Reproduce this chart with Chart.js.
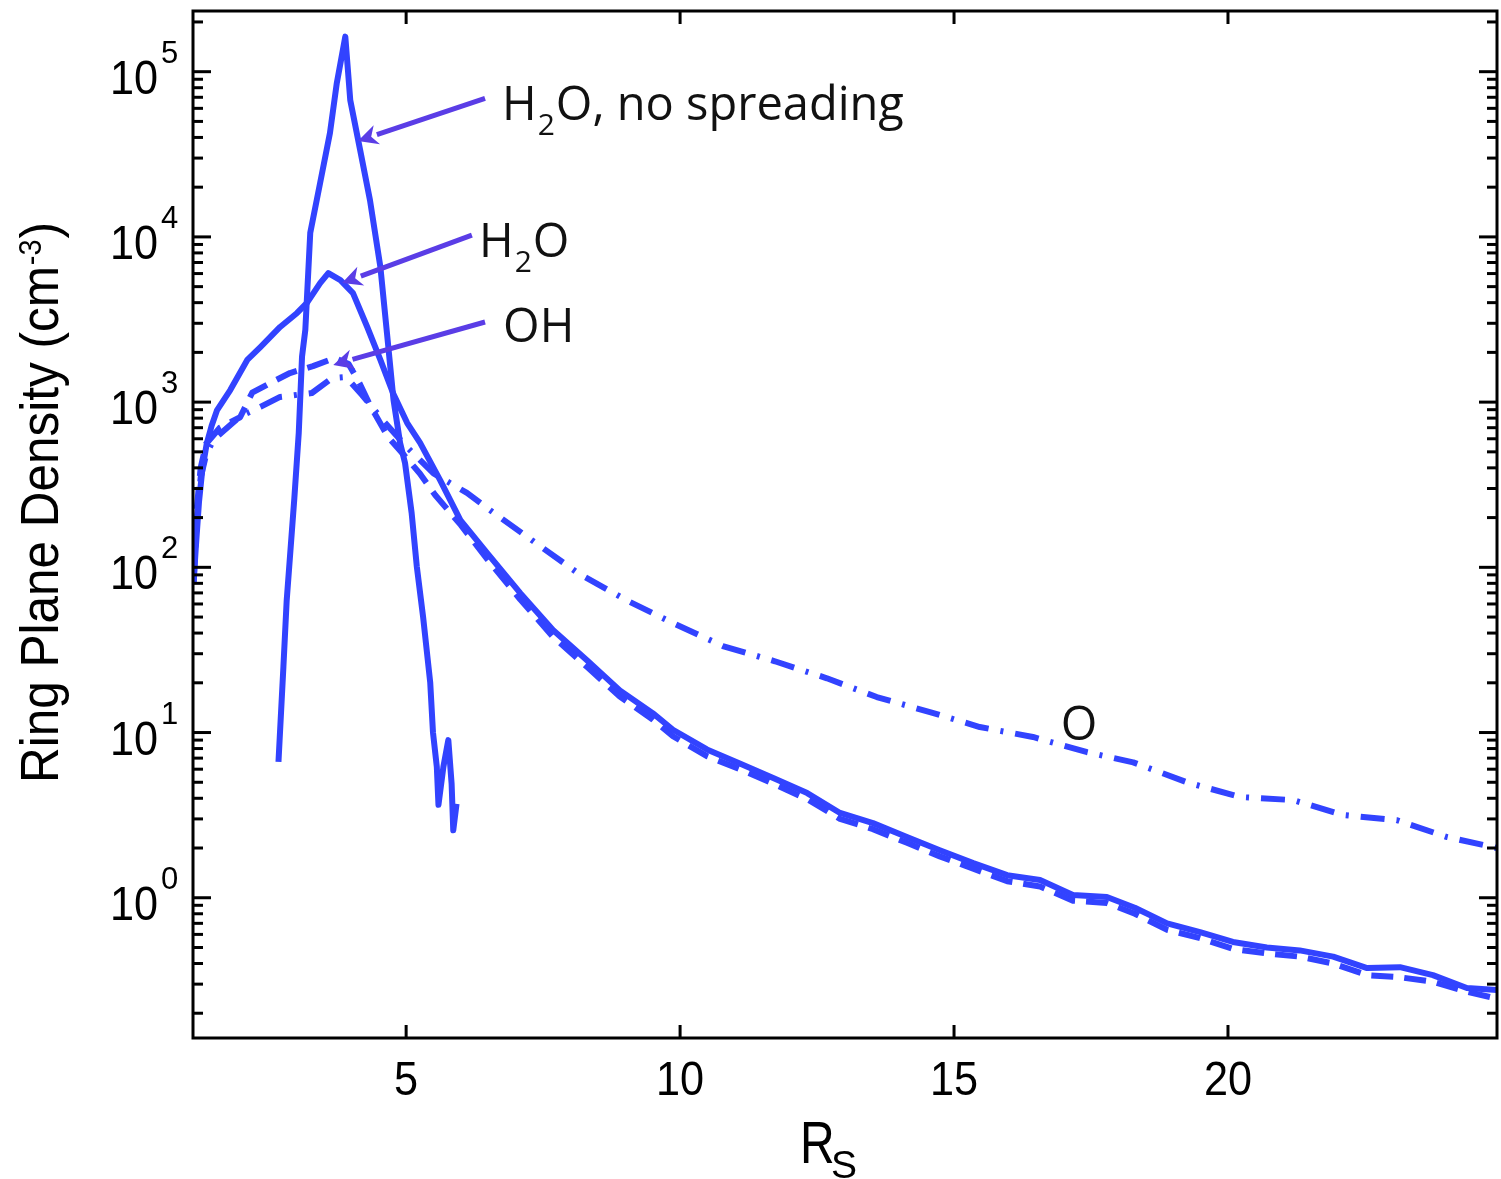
<!DOCTYPE html>
<html><head><meta charset="utf-8">
<script src="https://cdn.jsdelivr.net/npm/chart.js@4.4.1/dist/chart.umd.min.js"></script>
<style>html,body{margin:0;padding:0;background:#fff;}#wrap{width:1501px;height:1179px;}</style>
</head><body><div id="wrap"><canvas id="c" width="1501" height="1179"></canvas></div>
<script>
// ---- data (R in Saturn radii, density in cm^-3) ----
const noSpreadR = [2.67, 2.76, 2.82, 2.96, 3.04, 3.10, 3.16, 3.25, 3.43, 3.61, 3.735, 3.89, 3.98, 4.16, 4.34, 4.53, 4.65, 4.77, 4.89, 4.98, 5.10, 5.195, 5.31, 5.44, 5.49, 5.56, 5.59, 5.68, 5.77, 5.83, 5.86, 5.92];
const noSpreadD = [6.65, 25, 63, 263, 650, 1885, 2735, 10570, 21200, 42600, 85500, 163000, 67300, 33600, 16700, 6580, 2620, 1030, 566, 428, 214, 101, 50, 20, 10, 6.2, 3.65, 6.2, 9.0, 4.9, 2.56, 3.7];

const h2oR = [1.12, 1.16, 1.22, 1.28, 1.36, 1.45, 1.55, 1.79, 2.10, 2.34, 2.70, 3.01, 3.19, 3.43, 3.58, 3.80, 4.03, 4.29, 4.53, 4.76, 5.02, 5.255, 5.62, 5.99, 6.48, 7.08, 7.68, 8.30, 8.90, 9.50, 9.87, 10.49, 11.09, 11.70, 12.32, 12.92, 13.52, 14.14, 14.74, 15.35, 15.97, 16.57, 17.17, 17.79, 18.30, 18.89, 19.49, 20.09, 20.71, 21.31, 21.92, 22.54, 23.14, 23.74, 24.36, 24.91];
const h2oD = [80, 130, 250, 390, 560, 720, 895, 1183, 1800, 2155, 2850, 3465, 3990, 5250, 6040, 5480, 4570, 2850, 1800, 1135, 747, 566, 337, 193, 122, 70, 41.7, 27.4, 18, 13.1, 10.4, 7.9, 6.5, 5.3, 4.3, 3.26, 2.83, 2.33, 1.94, 1.62, 1.37, 1.28, 1.04, 1.01, 0.87, 0.70, 0.62, 0.54, 0.50, 0.48, 0.44, 0.375, 0.38, 0.34, 0.284, 0.276];

const ohR = [1.12, 1.18, 1.25, 1.35, 1.60, 1.97, 2.19, 2.52, 2.88, 3.30, 3.70, 3.95, 4.15, 4.34, 4.67, 4.96, 5.25, 5.53, 6.00, 6.48, 7.08, 7.68, 8.30, 8.90, 9.50, 9.87, 10.49, 11.09, 11.70, 12.32, 12.92, 13.52, 14.14, 14.74, 15.35, 15.97, 16.57, 17.17, 17.79, 18.30, 18.89, 19.49, 20.09, 20.71, 21.31, 21.92, 22.54, 23.14, 23.74, 24.36, 24.91];
const ohD = [90, 230, 400, 560, 700, 810, 1140, 1305, 1500, 1650, 1850, 1700, 1300, 960, 614, 478, 370, 274, 180, 112, 64, 38, 25, 16.5, 12, 9.5, 7.2, 6.0, 4.9, 3.95, 3.0, 2.6, 2.15, 1.78, 1.5, 1.26, 1.17, 0.96, 0.93, 0.80, 0.64, 0.57, 0.49, 0.46, 0.44, 0.40, 0.34, 0.33, 0.31, 0.27, 0.245];

const oR = [1.12, 1.18, 1.25, 1.35, 1.48, 1.97, 2.34, 2.70, 3.28, 3.65, 3.90, 4.20, 4.60, 5.00, 5.50, 6.11, 6.53, 7.32, 8.14, 9.03, 9.87, 10.78, 11.73, 12.68, 13.59, 14.56, 15.47, 16.44, 17.43, 18.27, 19.25, 20.22, 21.19, 22.10, 23.08, 24.00, 24.91];
const oD = [80, 200, 350, 480, 590, 820, 935, 1075, 1135, 1400, 1420, 1100, 760, 540, 370, 282, 222, 144, 92, 63, 46, 33.4, 27, 21.3, 16.4, 13.3, 10.8, 9.4, 7.6, 6.6, 5.0, 4.07, 3.9, 3.17, 2.95, 2.33, 2.0];

const xTickValues = [5, 10, 15, 20];
const yTickExponents = [0, 1, 2, 3, 4, 5];
const xTitle = ['R', 'S'];
const yTitle = ['Ring Plane Density (cm', '-3', ')'];

// annotation labels (text parts: [normal, subscript, normal]) and anchors in data units
const labelNoSpread = ['H', '2', 'O, no spreading'];
const labelH2O = ['H', '2', 'O'];
const labelOH = ['OH', '', ''];
const labelO = 'O';

const BLUE = '#3243ff';
const ARROW = '#5a3de6';

const pts = (xs, ys) => xs.map((x, i) => ({x: x, y: ys[i]}));

const annotations = [
  {parts: labelNoSpread, tx: 6.75, ty: 5.1e4, from: [6.44, 6.9e4], to: [4.12, 3.8e4]},
  {parts: labelH2O, tx: 6.33, ty: 7550, from: [6.20, 10260], to: [3.83, 5260]},
  {parts: labelOH, tx: 6.77, ty: 2323, from: [6.44, 3055], to: [3.67, 1680]}
];

function drawChem(ctx, parts, x, y) {
  ctx.textAlign = 'left';
  ctx.textBaseline = 'alphabetic';
  ctx.font = '47px "Open Sans"';
  ctx.fillText(parts[0], x, y);
  x += ctx.measureText(parts[0]).width;
  if (parts[1]) {
    ctx.font = '30px "Open Sans"';
    ctx.fillText(parts[1], x + 1, y + 15);
    x += ctx.measureText(parts[1]).width + 2;
  }
  if (parts[2]) {
    ctx.font = '47px "Open Sans"';
    ctx.fillText(parts[2], x, y);
  }
}

function drawArrow(ctx, x0, y0, x1, y1) {
  ctx.strokeStyle = ARROW; ctx.fillStyle = ARROW; ctx.lineWidth = 5; ctx.lineCap = 'butt';
  const ang = Math.atan2(y1 - y0, x1 - x0);
  const L = 20, W = 10;
  const bx = x1 - L * Math.cos(ang), by = y1 - L * Math.sin(ang);
  ctx.beginPath(); ctx.moveTo(x0, y0); ctx.lineTo(bx, by); ctx.stroke();
  ctx.beginPath();
  ctx.moveTo(x1, y1);
  ctx.lineTo(bx + W * Math.sin(ang), by - W * Math.cos(ang));
  ctx.lineTo(x1 - 0.7 * L * Math.cos(ang), y1 - 0.7 * L * Math.sin(ang));
  ctx.lineTo(bx - W * Math.sin(ang), by + W * Math.cos(ang));
  ctx.closePath(); ctx.fill();
}

const decor = {
  id: 'decor',
  afterDatasetsDraw(chart) {
    const ctx = chart.ctx, a = chart.chartArea, xs = chart.scales.x, ys = chart.scales.y;
    ctx.save();
    // annotations
    annotations.forEach(an => {
      drawArrow(ctx, xs.getPixelForValue(an.from[0]), ys.getPixelForValue(an.from[1]),
                xs.getPixelForValue(an.to[0]), ys.getPixelForValue(an.to[1]));
      ctx.fillStyle = '#111';
      drawChem(ctx, an.parts, xs.getPixelForValue(an.tx), ys.getPixelForValue(an.ty));
    });
    ctx.fillStyle = '#111';
    ctx.font = '47px "Open Sans"'; ctx.textAlign = 'center'; ctx.textBaseline = 'alphabetic';
    ctx.fillText(labelO, xs.getPixelForValue(17.28), ys.getPixelForValue(9.0));

    // frame
    ctx.strokeStyle = '#000'; ctx.lineWidth = 3; ctx.lineCap = 'butt';
    ctx.strokeRect(a.left, a.top, a.right - a.left, a.bottom - a.top);
    const seg = (x0, y0, x1, y1) => { ctx.beginPath(); ctx.moveTo(x0, y0); ctx.lineTo(x1, y1); ctx.stroke(); };
    // y ticks (inward, major + minor)
    for (let e = -1; e <= 5; e++) {
      for (let m = 1; m <= 9; m++) {
        const v = m * Math.pow(10, e);
        if (v < ys.min || v > ys.max) continue;
        const py = ys.getPixelForValue(v);
        const len = m === 1 ? 18 : 10;
        seg(a.left, py, a.left + len, py);
        seg(a.right, py, a.right - len, py);
      }
    }
    // x ticks
    xTickValues.forEach(v => {
      const px = xs.getPixelForValue(v);
      seg(px, a.bottom, px, a.bottom - 13);
      seg(px, a.top, px, a.top + 13);
    });

    // tick labels
    ctx.fillStyle = '#000';
    ctx.textBaseline = 'alphabetic';
    yTickExponents.forEach(e => {
      const py = ys.getPixelForValue(Math.pow(10, e));
      ctx.save(); ctx.translate(158, py + 22); ctx.scale(0.9, 1);
      ctx.font = '48px "Liberation Sans"'; ctx.textAlign = 'right';
      ctx.fillText('10', 0, 0); ctx.restore();
      ctx.font = '31px "Liberation Sans"'; ctx.textAlign = 'left';
      ctx.fillText(String(e), 161, py - 9);
    });
    xTickValues.forEach(v => {
      const px = xs.getPixelForValue(v);
      ctx.save(); ctx.translate(px, 1095); ctx.scale(0.9, 1);
      ctx.font = '48px "Liberation Sans"'; ctx.textAlign = 'center';
      ctx.fillText(String(v), 0, 0); ctx.restore();
    });

    // x title R_S
    ctx.save(); ctx.translate(800, 1163); ctx.scale(0.8, 1);
    ctx.font = '60px "Liberation Sans"'; ctx.textAlign = 'left';
    ctx.fillText(xTitle[0], 0, 0); ctx.restore();
    ctx.font = '39px "Liberation Sans"'; ctx.textAlign = 'left';
    ctx.fillText(xTitle[1], 831, 1178);

    // y title (rotated) with superscript
    ctx.save(); ctx.translate(58, 783); ctx.rotate(-Math.PI / 2);
    ctx.font = '53px "Liberation Sans"';
    const w0 = ctx.measureText(yTitle[0]).width, w2 = ctx.measureText(yTitle[2]).width;
    ctx.font = '31px "Liberation Sans"';
    const w1 = ctx.measureText(yTitle[1]).width;
    const s = 561 / (w0 + w1 + w2 + 2);
    ctx.scale(s, 1); ctx.textAlign = 'left';
    ctx.font = '53px "Liberation Sans"'; ctx.fillText(yTitle[0], 0, 0);
    ctx.font = '31px "Liberation Sans"'; ctx.fillText(yTitle[1], w0 + 1, -17);
    ctx.font = '53px "Liberation Sans"'; ctx.fillText(yTitle[2], w0 + w1 + 2, 0);
    ctx.restore();
    ctx.restore();
  }
};

const common = {borderColor: BLUE, backgroundColor: BLUE, borderWidth: 6, pointRadius: 0, tension: 0, fill: false, borderJoinStyle: 'round'};

new Chart(document.getElementById('c').getContext('2d'), {
  type: 'line',
  data: {datasets: [
    Object.assign({label: 'H2O, no spreading', data: pts(noSpreadR, noSpreadD)}, common),
    Object.assign({label: 'H2O', data: pts(h2oR, h2oD)}, common),
    Object.assign({label: 'OH', data: pts(ohR, ohD), borderDash: [22, 11]}, common, {borderDash: [22, 11]}),
    Object.assign({label: 'O', data: pts(oR, oD)}, common, {borderDash: [24, 12, 3, 12]})
  ]},
  options: {
    responsive: false, animation: false,
    layout: {padding: {left: 0, top: 11, right: 4, bottom: 0}},
    plugins: {legend: {display: false}, tooltip: {enabled: false}},
    scales: {
      x: {type: 'linear', min: 1.11, max: 24.91, grid: {display: false}, border: {display: false},
          ticks: {display: false}, afterFit(s) { s.height = 141; }},
      y: {type: 'logarithmic', min: 0.1416, max: 233000, grid: {display: false}, border: {display: false},
          ticks: {display: false}, afterFit(s) { s.width = 193; }}
    }
  },
  plugins: [decor]
});
</script></body></html>
